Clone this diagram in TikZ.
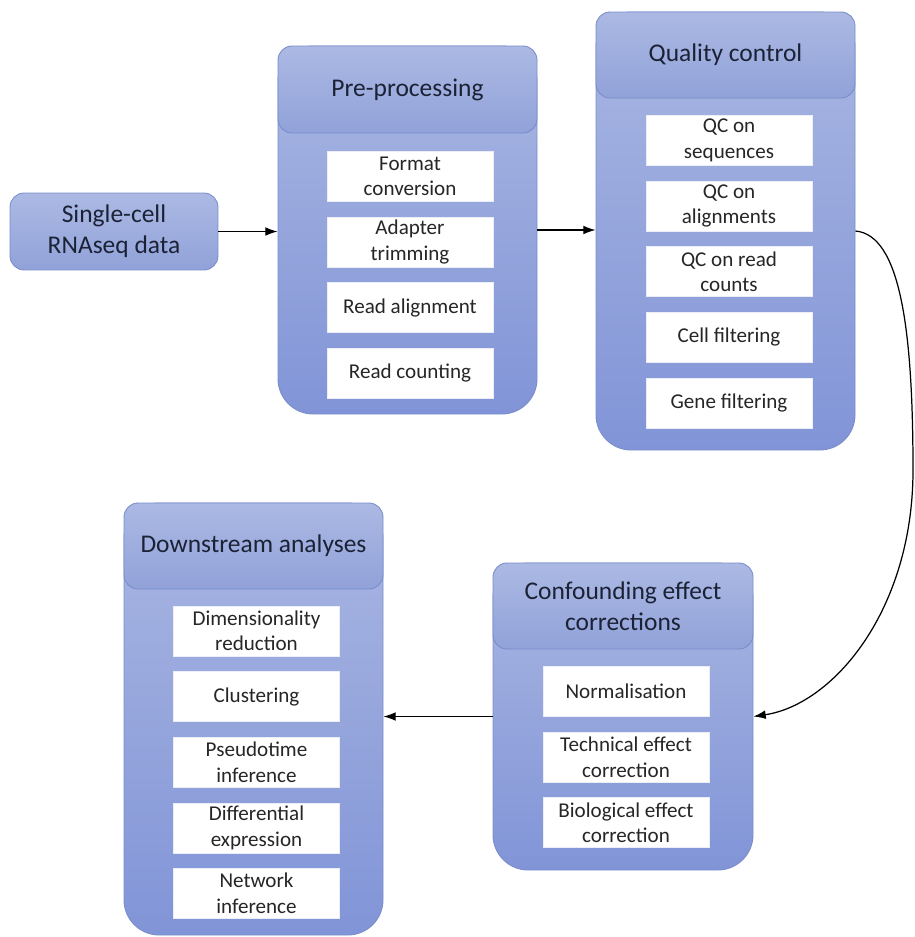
\documentclass[tikz,border=0pt]{standalone}
\usepackage{fontspec}
\setmainfont{Carlito}
\usepackage{tikz}
\usetikzlibrary{arrows.meta,positioning,fit}
\definecolor{stagetop}{HTML}{A9B7E2}
\definecolor{stagebottom}{HTML}{8194D7}
\definecolor{headtop}{HTML}{ABB9E3}
\definecolor{headbottom}{HTML}{91A2D9}
\definecolor{stageline}{HTML}{7A8DCB}
\definecolor{titleink}{HTML}{1C2236}
\definecolor{itemink}{HTML}{262626}
\tikzset{stagebody/.style={draw=stageline,line width=0.5pt,rounded corners=20pt,
        top color=stagetop,bottom color=stagebottom,inner sep=0},
    stagehead/.style={draw=stageline,line width=0.5pt,rounded corners=8pt,
        top color=headtop,bottom color=headbottom,inner sep=0},
    stagetitle/.style={align=center,text=titleink,font=\fontsize{14.5}{17.5}\selectfont},
    itembox/.style={fill=white,draw=white!85!stageline,line width=0.3pt,inner sep=1pt,
        minimum width=3.32cm,minimum height=1cm,align=center,text=itemink,
        font=\fontsize{12}{14.5}\selectfont},
    flow/.style={-{Latex[length=7pt,width=5pt]},line width=0.7pt,black}
}
\newcommand{\pipestage}[7]
{
% args: (name, left x, top y, right x, bottom y, bottom y of header, title)
    \node (#1body) [stagebody, fit={(#2,#3) (#4,#5)}] {};
    \node (#1head) [stagehead, fit={(#2,#3) (#4,#6)}] {};
    \node (#1title) [stagetitle] at (#1head.center) {#7};
}
\newcommand{\stageitems}[4]
{
% args: (name prefix, x of items, y of first item, list of item texts)
    \foreach \itemtext [count=\i] in {#4}
    {
        \pgfmathsetmacro\itemy{#3+65.6*(\i-1)}
        \node (#1\i) [itembox] at (#2,\itemy) {\itemtext};
    }
}

\begin{document}
\begin{tikzpicture}[x=0.02cm,y=-0.02cm]
\useasboundingbox (0,0) rectangle (914,937);

\node (scdata) [stagehead, stagetitle, minimum width=4.16cm, minimum height=1.54cm]
    at (114,231.5) {Single-cell\\RNAseq data};

\pipestage{pre}{278}{46}{537}{414}{133}{Pre-processing}
\stageitems{pre}{410}{176.5}{Format\\conversion,Adapter\\trimming,Read alignment,Read counting}

\pipestage{qc}{596}{12}{855}{450}{98}{Quality control}
\stageitems{qc}{729}{140.5}{QC on\\sequences,QC on\\alignments,QC on read\\counts,Cell filtering,Gene filtering}

\pipestage{conf}{493}{563}{753}{870}{649}{Confounding effect\\corrections}
\stageitems{conf}{626}{691.5}{Normalisation,Technical effect\\correction,Biological effect\\correction}

\pipestage{down}{124}{503}{383}{935}{589}{Downstream analyses}
\stageitems{down}{256.5}{631}{Dimensionality\\reduction,Clustering,Pseudotime\\inference,Differential\\expression,Network\\inference}

\draw [flow] (scdata.east) -- (scdata.east -| prebody.west);
\draw [flow] (prebody.east) -- (prebody.east -| qcbody.west);
\draw [flow] (qcbody.east) .. controls +(45,4) and +(0,-140) .. (913,470)
    .. controls +(0,140) and +(80,-12) .. (confbody.east);
\draw [flow] (confbody.west) -- (confbody.west -| downbody.east);

\end{tikzpicture}
\end{document}
